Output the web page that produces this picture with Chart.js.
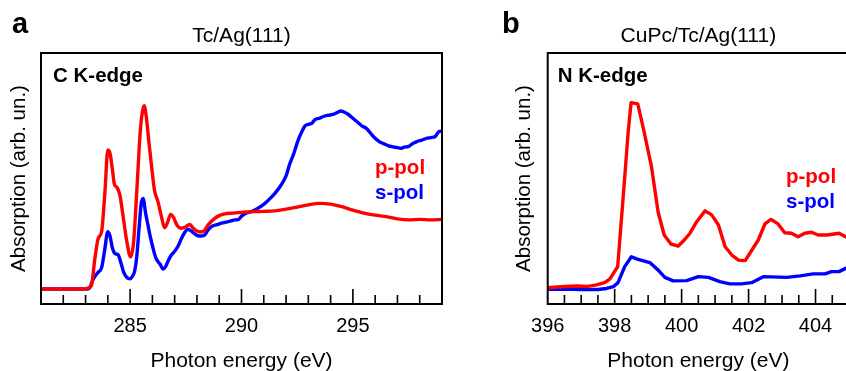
<!DOCTYPE html>
<html>
<head>
<meta charset="utf-8">
<script src="https://cdn.jsdelivr.net/npm/chart.js@4/dist/chart.umd.min.js"></script>
<style>
  html, body { margin:0; padding:0; background:#fff; overflow:hidden; width:846px; height:371px; }
  canvas { position:absolute; top:0; }
  #cLeft { left:0; }
  #cRight { left:470px; }
</style>
</head>
<body>
<canvas id="cLeft" width="470" height="371"></canvas>
<canvas id="cRight" width="390" height="371"></canvas>
<script>
// ---------- Panel a: C K-edge, Tc/Ag(111) ----------
const cEnergyP = [281, 283.0, 283.15, 283.27, 283.42, 283.57, 283.72, 283.87, 284.0, 284.1, 284.2, 284.3, 284.39, 284.54, 284.7, 284.85, 285.02, 285.15, 285.3, 285.45, 285.55, 285.63, 285.72, 285.85, 286.0, 286.1, 286.25, 286.4, 286.55, 286.68, 286.82, 286.95, 287.1, 287.3, 287.5, 287.67, 287.85, 288.1, 288.27, 288.5, 288.8, 289.0, 289.24, 289.6, 290.0, 290.5, 291.0, 291.5, 292.0, 292.5, 293.0, 293.5, 294.0, 294.5, 295.0, 295.5, 296.0, 296.5, 297.0, 297.5, 298.0, 298.5, 299.0];
const cPPol    = [6, 6, 6.5, 7.6, 18.2, 26.2, 28.8, 44.7, 61.4, 60, 54, 47.5, 46.7, 43.4, 34, 25, 18.8, 24, 45, 68, 76.5, 79, 75, 64, 52, 45, 40.8, 35, 30.4, 32.5, 35.7, 34.5, 31.5, 30.2, 30.8, 31.7, 30, 28.8, 28.8, 31.5, 34.1, 35.2, 35.9, 36.2, 36.5, 36.8, 36.9, 37.1, 37.8, 38.6, 39.5, 40.1, 39.8, 38.8, 37.4, 36.2, 35.4, 34.8, 33.9, 33.5, 33.7, 33.5, 33.7];
const cEnergyS = [281, 283.1, 283.2, 283.3, 283.42, 283.55, 283.72, 283.85, 284.0, 284.1, 284.2, 284.31, 284.46, 284.6, 284.7, 284.85, 285.0, 285.1, 285.2, 285.3, 285.4, 285.5, 285.58, 285.7, 285.8, 285.9, 286.03, 286.15, 286.25, 286.35, 286.48, 286.6, 286.7, 286.85, 287.0, 287.15, 287.3, 287.45, 287.6, 287.75, 287.9, 288.05, 288.2, 288.35, 288.5, 288.65, 288.9, 289.1, 289.3, 289.5, 289.7, 289.85, 290.0, 290.2, 290.5, 290.8, 291.05, 291.3, 291.5, 291.75, 292.0, 292.15, 292.35, 292.52, 292.7, 292.85, 293.0, 293.15, 293.3, 293.5, 293.7, 293.9, 294.1, 294.3, 294.45, 294.6, 294.8, 295.0, 295.2, 295.4, 295.6, 295.8, 296.0, 296.2, 296.4, 296.6, 296.8, 297.0, 297.15, 297.3, 297.5, 297.7, 297.9, 298.1, 298.3, 298.5, 298.7, 298.85, 299.0];
const cSPol    = [6, 6, 6.6, 9, 11, 12.5, 14.5, 21, 28.8, 27, 22.5, 20.2, 19.6, 16, 12.9, 10.6, 10, 11, 13, 19, 30, 40, 42.1, 36, 31.5, 27, 22.2, 18.5, 16.9, 15.8, 13.9, 15, 17, 19.5, 21, 23, 26, 28.5, 29.8, 29, 28, 27.2, 27.1, 27.5, 29.5, 30.8, 31.6, 32.2, 32.6, 33, 33.5, 33.6, 35, 36.2, 37, 38.5, 40.1, 42.2, 44.1, 47, 51, 55.4, 60, 64.7, 68.5, 71, 71.6, 72, 73.5, 74, 74.8, 75.2, 75.5, 76.3, 76.9, 76.5, 75.5, 74, 72.5, 71, 70, 68, 66, 64.6, 63.8, 63, 62.6, 62.3, 62, 62.5, 62.8, 64, 64.8, 65.3, 66, 66.3, 66.8, 68.6, 68.9];
const cTickLabels = [285, 290, 295];
const cMinorTicks = [282, 283, 284, 286, 287, 288, 289, 291, 292, 293, 294, 296, 297, 298];

// ---------- Panel b: N K-edge, CuPc/Tc/Ag(111) ----------
const nEnergyP = [396, 396.5, 396.87, 397.2, 397.46, 397.7, 397.86, 398.09, 398.18, 398.31, 398.4, 398.49, 398.69, 398.88, 399.1, 399.3, 399.48, 399.68, 399.9, 400.1, 400.25, 400.45, 400.7, 400.9, 401.1, 401.3, 401.5, 401.7, 401.9, 402.1, 402.29, 402.49, 402.67, 402.88, 403.08, 403.28, 403.48, 403.68, 403.88, 404.08, 404.33, 404.5, 404.7, 404.9, 405];
const nPPol    = [6.5, 7.0, 7.2, 7.0, 7.6, 8.5, 10, 14.9, 30, 52, 68, 80.2, 79.7, 68.6, 54.7, 36.5, 27.5, 23.9, 23.1, 25.8, 28.2, 32.8, 37.1, 35.5, 31.5, 22.8, 19.5, 17.5, 17.3, 21.5, 25.5, 31.9, 33.7, 31.9, 28.4, 28.2, 26.8, 28.2, 28.6, 27.5, 27.5, 27.8, 28.2, 26.8, 26.5];
const nEnergyS = [396, 396.5, 397, 397.5, 397.76, 397.96, 398.1, 398.3, 398.5, 398.7, 399.05, 399.3, 399.5, 399.75, 400.15, 400.5, 400.8, 401.14, 401.44, 401.79, 402.09, 402.44, 403.14, 403.54, 403.93, 404.28, 404.48, 404.7, 404.9, 405];
const nSPol    = [5.9, 6.0, 5.8, 5.8, 6.2, 6.9, 8.5, 14.9, 18.8, 17.8, 16.5, 13.5, 10.6, 9.2, 9.3, 10.9, 10.6, 8.9, 8.0, 8.0, 8.5, 10.9, 10.6, 11.2, 12.0, 12.0, 12.9, 12.9, 14.2, 14.8];
const nTickLabels = [396, 398, 400, 402, 404];
const nMajorTicks = [398, 400, 402, 404];
const nMinorTicks = [396.5, 397, 397.5, 398.5, 399, 399.5, 400.5, 401, 401.5, 402.5, 403, 403.5, 404.5];

const FONT = "'Liberation Sans', Arial, Helvetica, sans-serif";
const RED = '#ff0000', BLUE = '#0000ff';

function pts(xs, ys) { return xs.map((x, i) => ({x, y: ys[i]})); }

const decor = {
  id: 'decor',
  afterDatasetsDraw(chart, args, o) {
    const {ctx, chartArea: a} = chart;
    const x = chart.scales.x;
    ctx.save();
    ctx.strokeStyle = '#000';
    ctx.lineWidth = 1.6;
    ctx.beginPath();
    for (const t of o.major) { const p = x.getPixelForValue(t); ctx.moveTo(p, a.bottom); ctx.lineTo(p, a.bottom - 15); }
    for (const t of o.minor) { const p = x.getPixelForValue(t); ctx.moveTo(p, a.bottom); ctx.lineTo(p, a.bottom - 9); }
    ctx.stroke();
    ctx.lineWidth = 2;
    ctx.strokeRect(a.left, a.top, a.right - a.left, a.bottom - a.top);
    ctx.fillStyle = '#000';
    ctx.textBaseline = 'alphabetic';
    ctx.textAlign = 'left';
    ctx.font = 'bold 29px ' + FONT;
    ctx.fillText(o.letter, o.letterX, 33);
    ctx.font = '21px ' + FONT;
    ctx.textAlign = 'center';
    ctx.fillText(o.title, (a.left + a.right) / 2, 42);
    ctx.textAlign = 'left';
    ctx.font = 'bold 20.5px ' + FONT;
    ctx.fillText(o.edge, a.left + o.edgeDx, 82);
    ctx.fillStyle = RED;
    ctx.fillText('p-pol', o.legX, o.legY);
    ctx.fillStyle = BLUE;
    ctx.fillText('s-pol', o.legX, o.legY + 25);
    ctx.restore();
  }
};

function makeChart(id, cfg) {
  return new Chart(document.getElementById(id), {
    type: 'line',
    data: {
      datasets: [
        { label: 'p-pol', data: pts(cfg.ex[0], cfg.ey[0]), borderColor: RED, borderWidth: 3.4, pointRadius: 0,
          tension: cfg.tension, cubicInterpolationMode: cfg.mode, borderJoinStyle: 'round', borderCapStyle: 'round', fill: false },
        { label: 's-pol', data: pts(cfg.ex[1], cfg.ey[1]), borderColor: BLUE, borderWidth: 3.4, pointRadius: 0,
          tension: cfg.tension, cubicInterpolationMode: cfg.mode, borderJoinStyle: 'round', borderCapStyle: 'round', fill: false }
      ]
    },
    options: {
      responsive: false, animation: false, devicePixelRatio: 1,
      layout: { padding: { top: 53, right: cfg.padRight, left: cfg.padLeft, bottom: 0 } },
      plugins: {
        legend: { display: false }, tooltip: { enabled: false }, title: { display: false },
        decor: cfg.decor
      },
      scales: {
        x: {
          type: 'linear', min: cfg.min, max: cfg.max,
          grid: { display: false, drawTicks: false, tickLength: 0 },
          border: { display: false },
          afterBuildTicks: s => { s.ticks = cfg.labels.map(v => ({value: v})); },
          afterFit: s => { s.height = 67; },
          ticks: { color: '#000', font: { family: FONT, size: 20 }, padding: 10, maxRotation: 0, autoSkip: false,
                   callback: v => String(v) },
          title: { display: true, text: 'Photon energy (eV)', color: '#000', font: { family: FONT, size: 21 }, padding: { top: 0, bottom: -3 } }
        },
        y: {
          type: 'linear', min: 0, max: 100,
          grid: { display: false, drawTicks: false },
          border: { display: false },
          ticks: { display: false },
          afterFit: s => { s.width = cfg.yWidth; },
          title: { display: true, text: 'Absorption (arb. un.)', color: '#000', font: { family: FONT, size: 20.5 }, padding: { top: 7, bottom: 0 } }
        }
      }
    },
    plugins: [decor]
  });
}

makeChart('cLeft', {
  ex: [cEnergyP, cEnergyS], ey: [cPPol, cSPol], tension: 0.4, mode: 'monotone',
  min: 281, max: 299, labels: cTickLabels, padLeft: 0, padRight: 28, yWidth: 41,
  decor: { major: cTickLabels, minor: cMinorTicks, letter: 'a', letterX: 12, title: 'Tc/Ag(111)',
           edge: 'C K-edge', edgeDx: 12, legX: 375, legY: 174 }
});

makeChart('cRight', {
  ex: [nEnergyP, nEnergyS], ey: [nPPol, nSPol], tension: 0, mode: 'default',
  min: 396, max: 405, labels: nTickLabels, padLeft: 35, padRight: 11, yWidth: 42.7,
  decor: { major: nMajorTicks, minor: nMinorTicks, letter: 'b', letterX: 32, title: 'CuPc/Tc/Ag(111)',
           edge: 'N K-edge', edgeDx: 10, legX: 316, legY: 183 }
});
</script>
</body>
</html>
